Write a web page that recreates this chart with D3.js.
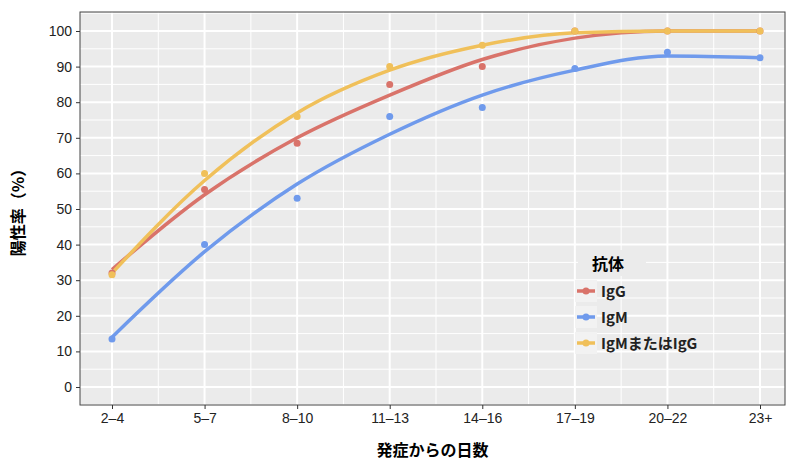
<!DOCTYPE html><html><head><meta charset="utf-8"><script src="https://cdn.jsdelivr.net/npm/d3@7"></script>
<style>body{margin:0;background:#fff;font-family:"Noto Sans CJK JP","Noto Sans",sans-serif}</style></head><body><svg id="c" width="800" height="467"></svg><script>
const categories=["2–4","5–7","8–10","11–13","14–16","17–19","20–22","23+"];
const yTicks=[0,10,20,30,40,50,60,70,80,90,100];
const igg=[32,55.5,68.5,85,90,100,100,100];
const igm=[13.5,40,53,76,78.5,89.5,94,92.5];
const either=[31.5,60,76,90,96,100,100,100];
const iggFit=[33,54,70,82,92,98,100,100];
const igmFit=[14,38,57,71,82,89,93,92.5];
const eitherFit=[32,58,77,89,96,99.5,100,100];
const names=["IgG","IgM","IgMまたはIgG"];
const colors=["#D9736A","#6F9AEC","#F0C05A"];
const svg=d3.select("#c");
const L=80,R=785,T=12,B=405;
const x=d3.scalePoint().domain(categories).range([112,760]);
const y=d3.scaleLinear().domain([0,100]).range([387,31]);
svg.append("rect").attr("x",L).attr("y",T).attr("width",R-L).attr("height",B-T).attr("fill","#EBEBEB");
const step=x.step();
for(let i=-1;i<categories.length;i++){const xv=x(categories[0])+step*(i+0.5);if(xv>L&&xv<R)svg.append("line").attr("x1",xv).attr("x2",xv).attr("y1",T).attr("y2",B).attr("stroke","#fff").attr("stroke-width",1);}
for(let v=-5;v<=105;v+=10){const yv=y(v);if(yv>T&&yv<B)svg.append("line").attr("x1",L).attr("x2",R).attr("y1",yv).attr("y2",yv).attr("stroke","#fff").attr("stroke-width",1);}
categories.forEach(c=>svg.append("line").attr("x1",x(c)).attr("x2",x(c)).attr("y1",T).attr("y2",B).attr("stroke","#fff").attr("stroke-width",2));
yTicks.forEach(v=>svg.append("line").attr("x1",L).attr("x2",R).attr("y1",y(v)).attr("y2",y(v)).attr("stroke","#fff").attr("stroke-width",2));
svg.append("rect").attr("x",L).attr("y",T).attr("width",R-L).attr("height",B-T).attr("fill","none").attr("stroke","#444").attr("stroke-width",1);
const xa=svg.append("g").attr("transform",`translate(0,${B})`).call(d3.axisBottom(x).tickSize(4).tickPadding(4));
const ya=svg.append("g").attr("transform",`translate(${L},0)`).call(d3.axisLeft(y).tickValues(yTicks).tickSize(4).tickPadding(4));
[xa,ya].forEach(a=>{a.select(".domain").remove();a.selectAll("text").attr("font-size",14).attr("fill","#222");a.selectAll("line").attr("stroke","#333");});
svg.append("text").attr("x",(L+R)/2).attr("y",456).attr("text-anchor","middle").attr("font-size",16).attr("font-weight","bold").text("発症からの日数");
svg.append("text").attr("transform",`translate(24,${(T+B)/2}) rotate(-90)`).attr("text-anchor","middle").attr("font-size",16).attr("font-weight","bold").text("陽性率（%）");
const fits=[iggFit,igmFit,eitherFit],pts=[igg,igm,either];
const line=d3.line().x((d,i)=>x(categories[i])).y(d=>y(d)).curve(d3.curveMonotoneX);
fits.forEach((f,k)=>svg.append("path").attr("d",line(f)).attr("fill","none").attr("stroke",colors[k]).attr("stroke-width",3.5));
pts.forEach((p,k)=>svg.selectAll(null).data(p).enter().append("circle").attr("cx",(d,i)=>x(categories[i])).attr("cy",d=>y(d)).attr("r",3.5).attr("fill",colors[k]));
const lg=svg.append("g");
lg.append("rect").attr("x",578).attr("y",250).attr("width",68).attr("height",26).attr("fill","#EBEBEB");
lg.append("text").attr("x",592).attr("y",270).attr("font-size",16).attr("font-weight","bold").text("抗体");
names.forEach((n,k)=>{const yy=291+k*26;
lg.append("rect").attr("x",575).attr("y",yy-11).attr("width",22).attr("height",22).attr("fill","#F2F2F2");
lg.append("line").attr("x1",577).attr("x2",595).attr("y1",yy).attr("y2",yy).attr("stroke",colors[k]).attr("stroke-width",3.5);
lg.append("circle").attr("cx",586).attr("cy",yy).attr("r",3.5).attr("fill",colors[k]);
const t=lg.append("text").attr("x",601).attr("y",yy+6).attr("font-size",15).attr("font-weight","bold").attr("fill","#222").text(n);});
</script></body></html>
